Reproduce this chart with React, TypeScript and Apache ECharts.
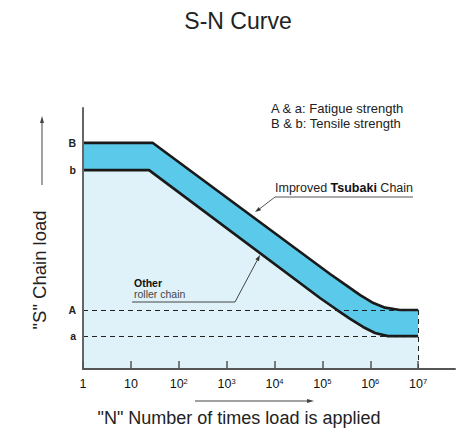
import React, { useEffect, useRef } from 'react';
import * as echarts from 'echarts';

const FONT = '"Liberation Sans", Arial, Helvetica, sans-serif';

// Load levels on the S axis (arbitrary units, 0..100)
const levelNames = ['a', 'A', 'b', 'B'];
const levelValues = [12.6, 22.6, 76.2, 86.6];

// N axis: log10 of cycles
const xExponents = [0, 1, 2, 3, 4, 5, 6, 7];
const xTickLabels = ['1', '10', '10{sup|2}', '10{sup|3}', '10{sup|4}', '10{sup|5}', '10{sup|6}', '10{sup|7}'];

// Improved Tsubaki chain (upper curve)
const improvedLogN = [0, 1.46, 5.16, 5.47, 5.79, 6.04, 6.31, 6.62, 7];
const improvedLoad = [86.6, 86.6, 36.4, 32.4, 28.3, 25.5, 23.5, 22.6, 22.6];

// Other roller chain (lower curve)
const otherLogN = [0, 1.38, 4.95, 5.31, 5.58, 5.85, 6.1, 6.37, 7];
const otherLoad = [76.2, 76.2, 27.2, 22.6, 19.2, 16.1, 13.8, 12.6, 12.6];

const legendLines = ['A & a: Fatigue strength', 'B & b: Tensile strength'];

export default function App() {
  const ref = useRef<HTMLDivElement>(null);

  useEffect(() => {
    if (!ref.current) return;
    const chart = echarts.init(ref.current, undefined, { renderer: 'svg' });

    const A = levelValues[1];
    const a = levelValues[0];
    const xEnd = xExponents[xExponents.length - 1];

    const lineCol = '#444';
    const z = 100;

    const option: any = {
      animation: false,
      textStyle: { fontFamily: FONT },
      grid: { left: 83, right: 6, top: 108, bottom: 62, containLabel: false },
      xAxis: {
        type: 'value',
        min: 0,
        max: 7.77,
        interval: 1,
        z: 10,
        splitLine: { show: false },
        axisLine: { show: true, lineStyle: { color: '#555', width: 2 } },
        axisTick: {
          show: true,
          inside: true,
          length: 8,
          customValues: xExponents,
          lineStyle: { color: '#555', width: 1.5 },
        },
        axisLabel: {
          customValues: xExponents,
          margin: 8,
          fontSize: 12.5,
          color: '#111',
          fontFamily: FONT,
          formatter: (v: number) => {
            const i = xExponents.indexOf(Math.round(v));
            return i >= 0 ? xTickLabels[i] : '';
          },
          rich: {
            sup: { fontSize: 7.5, verticalAlign: 'top', fontFamily: FONT, color: '#111', padding: [0, 0, 6, 0] },
          },
        },
      },
      yAxis: {
        type: 'value',
        min: 0,
        max: 100,
        z: 10,
        splitLine: { show: false },
        axisLine: { show: true, lineStyle: { color: '#666', width: 2 } },
        axisTick: { show: false },
        axisLabel: {
          customValues: levelValues,
          margin: 7,
          fontSize: 10.5,
          fontWeight: 'bold',
          color: '#222',
          fontFamily: FONT,
          formatter: (v: number) => {
            const i = levelValues.indexOf(v);
            return i >= 0 ? levelNames[i] : '';
          },
        },
      },
      series: [
        {
          name: 'Improved Tsubaki Chain',
          type: 'line',
          showSymbol: false,
          symbol: 'none',
          z: 2,
          data: improvedLogN.map((x, i) => [x, improvedLoad[i]]),
          lineStyle: { color: '#1a1a1a', width: 2.7 },
          areaStyle: { color: '#5BC9E9', opacity: 1 },
        },
        {
          name: 'Other roller chain',
          type: 'line',
          showSymbol: false,
          symbol: 'none',
          z: 3,
          data: otherLogN.map((x, i) => [x, otherLoad[i]]),
          lineStyle: { color: '#1a1a1a', width: 2.7 },
          areaStyle: { color: '#DFF2F9', opacity: 1 },
          markLine: {
            silent: true,
            z: 6,
            symbol: 'none',
            label: { show: false },
            lineStyle: { type: [5, 4], color: '#222', width: 1 },
            data: [
              [{ coord: [0, A] }, { coord: [xEnd, A] }],
              [{ coord: [0, a] }, { coord: [xEnd, a] }],
              [{ coord: [xEnd, A] }, { coord: [xEnd, 0] }],
            ],
          },
        },
      ],
      graphic: [
        {
          type: 'text',
          z,
          x: 238,
          y: 21,
          style: { text: 'S-N Curve', fontSize: 23, fill: '#222', fontFamily: FONT, align: 'center', verticalAlign: 'middle' },
        },
        {
          type: 'text',
          z,
          x: 39,
          y: 270,
          rotation: Math.PI / 2,
          style: { text: '"S" Chain load', fontSize: 18.5, fill: '#222', fontFamily: FONT, align: 'center', verticalAlign: 'middle' },
        },
        { type: 'line', z, shape: { x1: 42, y1: 185, x2: 42, y2: 121 }, style: { stroke: lineCol, lineWidth: 1 } },
        { type: 'polygon', z, shape: { points: [[42, 116], [40, 123], [44, 123]] }, style: { fill: lineCol } },
        {
          type: 'text',
          z,
          x: 239,
          y: 418,
          style: { text: '"N" Number of times load is applied', fontSize: 18, fill: '#222', fontFamily: FONT, align: 'center', verticalAlign: 'middle' },
        },
        { type: 'line', z, shape: { x1: 195, y1: 401, x2: 309, y2: 401 }, style: { stroke: lineCol, lineWidth: 1 } },
        { type: 'polygon', z, shape: { points: [[314, 401], [307, 399], [307, 403]] }, style: { fill: lineCol } },
        ...legendLines.map((t, i) => ({
          type: 'text',
          z,
          x: 271,
          y: 108 + i * 15,
          style: { text: t, fontSize: 13, fill: '#222', fontFamily: FONT, align: 'left', verticalAlign: 'middle' },
        })),
        {
          type: 'text',
          z,
          x: 275,
          y: 188,
          style: {
            text: '{n|Improved }{b|Tsubaki}{n| Chain}',
            fontSize: 12.5,
            fill: '#222',
            fontFamily: FONT,
            align: 'left',
            verticalAlign: 'middle',
            rich: {
              n: { fontSize: 12.5, fill: '#222', fontFamily: FONT },
              b: { fontSize: 12.5, fill: '#111', fontWeight: 'bold', fontFamily: FONT },
            },
          },
        },
        {
          type: 'polyline',
          z,
          shape: { points: [[413, 197], [275, 197], [259.9, 208.6]] },
          style: { stroke: '#555', lineWidth: 1, fill: 'none' },
        },
        { type: 'polygon', z, shape: { points: [[255, 212], [261.05, 210.24], [258.75, 206.96]] }, style: { fill: '#333' } },
        {
          type: 'text',
          z,
          x: 134,
          y: 283,
          style: { text: 'Other', fontSize: 10.5, fontWeight: 'bold', fill: '#111', fontFamily: FONT, align: 'left', verticalAlign: 'middle' },
        },
        {
          type: 'text',
          z,
          x: 134,
          y: 294,
          style: { text: 'roller chain', fontSize: 10.5, fill: '#444', fontFamily: FONT, align: 'left', verticalAlign: 'middle' },
        },
        {
          type: 'polyline',
          z,
          shape: { points: [[132, 302], [235, 302], [257.2, 260.3]] },
          style: { stroke: '#444', lineWidth: 1, fill: 'none' },
        },
        { type: 'polygon', z, shape: { points: [[260, 255], [258.97, 261.24], [255.43, 259.36]] }, style: { fill: '#333' } },
      ],
    };

    chart.setOption(option);
    return () => chart.dispose();
  }, []);

  return (
    <div
      ref={ref}
      style={{ position: 'fixed', left: 0, top: 0, width: 461, height: 431, background: '#fff' }}
    />
  );
}
